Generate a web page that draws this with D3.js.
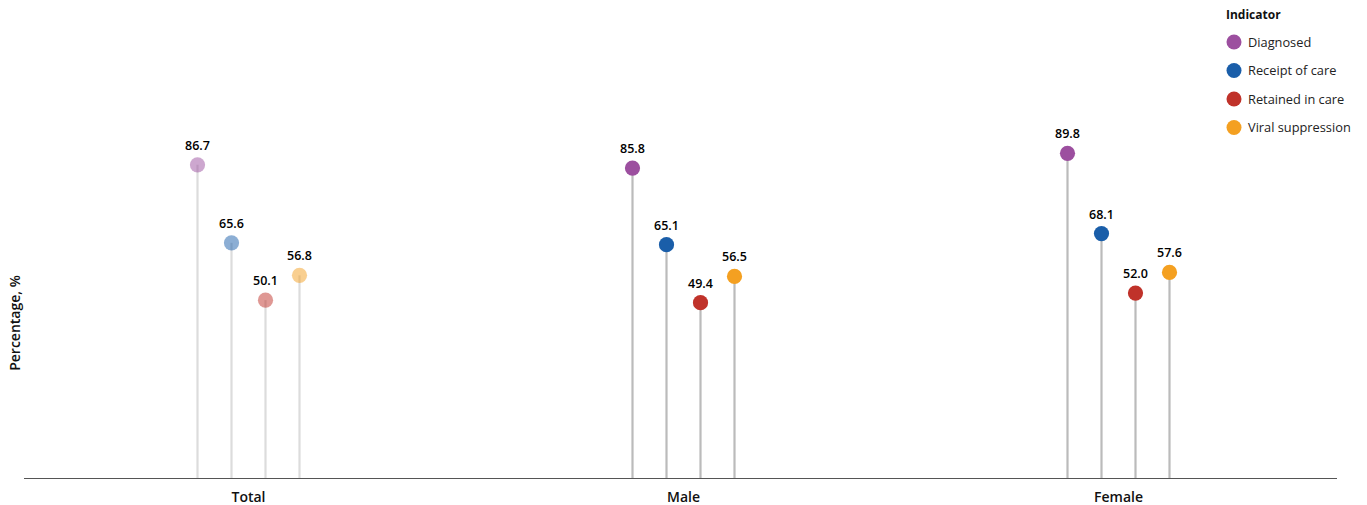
<!DOCTYPE html>
<html><head><meta charset="utf-8">
<script src="https://cdn.jsdelivr.net/npm/d3@7"></script>
<style>
html,body{margin:0;padding:0;background:#fff;}
svg text{font-family:"Open Sans",Lato,sans-serif;}
</style></head>
<body>
<svg id="chart" width="1367" height="505"></svg>
<script>
const groups = ["Total", "Male", "Female"];
const indicators = ["Diagnosed", "Receipt of care", "Retained in care", "Viral suppression"];
const colors = ["#9c4f9f", "#1a5ea9", "#c0322a", "#f4a021"];
const totalValues = [86.7, 65.6, 50.1, 56.8];
const maleValues = [85.8, 65.1, 49.4, 56.5];
const femaleValues = [89.8, 68.1, 52.0, 57.6];
const groupValues = [totalValues, maleValues, femaleValues];
const groupOpacity = [0.5, 1, 1];

const svg = d3.select("#chart");
const baseY = 478.5;
const x0 = d3.scaleBand().domain(groups).range([31, 1336]).padding(0);
const x1 = d3.scalePoint().domain(indicators).range([-51, 51]);
const y = d3.scaleLinear().domain([0, 100]).range([485.4, 115.6]);

// axis line
svg.append("line").attr("x1", 24).attr("x2", 1337).attr("y1", baseY).attr("y2", baseY)
  .attr("stroke", "#555").attr("stroke-width", 1);

// x-axis labels
const xAxis = d3.axisBottom(x0).tickSize(0).tickPadding(0);
const gx = svg.append("g").attr("transform", `translate(0,${baseY})`).call(xAxis);
gx.select(".domain").remove();
gx.selectAll("text").attr("dy", null).attr("y", 23)
  .style("font-size", "14px").style("font-weight", "600").attr("fill", "#111");

// y label
svg.append("text").attr("transform", "translate(20,323) rotate(-90)")
  .attr("text-anchor", "middle").style("font-size", "14px").style("font-weight", "600")
  .attr("fill", "#111").text("Percentage, %");

groups.forEach((g, gi) => {
  const gg = svg.append("g");
  const data = indicators.map((ind, i) => ({ind, i, v: groupValues[gi][i]}));
  const cx = d => x0(g) + x0.bandwidth() / 2 + x1(d.ind);
  gg.selectAll("line.stem").data(data).join("line").attr("class", "stem")
    .attr("x1", cx).attr("x2", cx).attr("y1", d => y(d.v)).attr("y2", baseY - 0.5)
    .attr("stroke", "#bbb").attr("stroke-width", 2.2).attr("opacity", groupOpacity[gi]);
  gg.selectAll("circle").data(data).join("circle")
    .attr("cx", cx).attr("cy", d => y(d.v)).attr("r", 7.6).attr("fill", d => colors[d.i])
    .attr("opacity", groupOpacity[gi]);
  gg.selectAll("text.val").data(data).join("text").attr("class", "val")
    .attr("x", cx).attr("y", d => y(d.v) - 15).attr("text-anchor", "middle")
    .style("font-size", "12.5px").style("font-weight", "600").attr("fill", "#000")
    .text(d => d.v.toFixed(1));
});

// legend
const lg = svg.append("g");
lg.append("text").attr("x", 1226).attr("y", 19).style("font-size", "12px")
  .style("font-weight", "700").attr("fill", "#111").text("Indicator");
indicators.forEach((ind, i) => {
  const yy = 42 + i * 28.5;
  lg.append("circle").attr("cx", 1234).attr("cy", yy).attr("r", 7.5).attr("fill", colors[i]);
  lg.append("text").attr("x", 1248).attr("y", yy + 4.5).style("font-size", "12.8px")
    .attr("fill", "#222").text(ind);
});
</script>
</body></html>
